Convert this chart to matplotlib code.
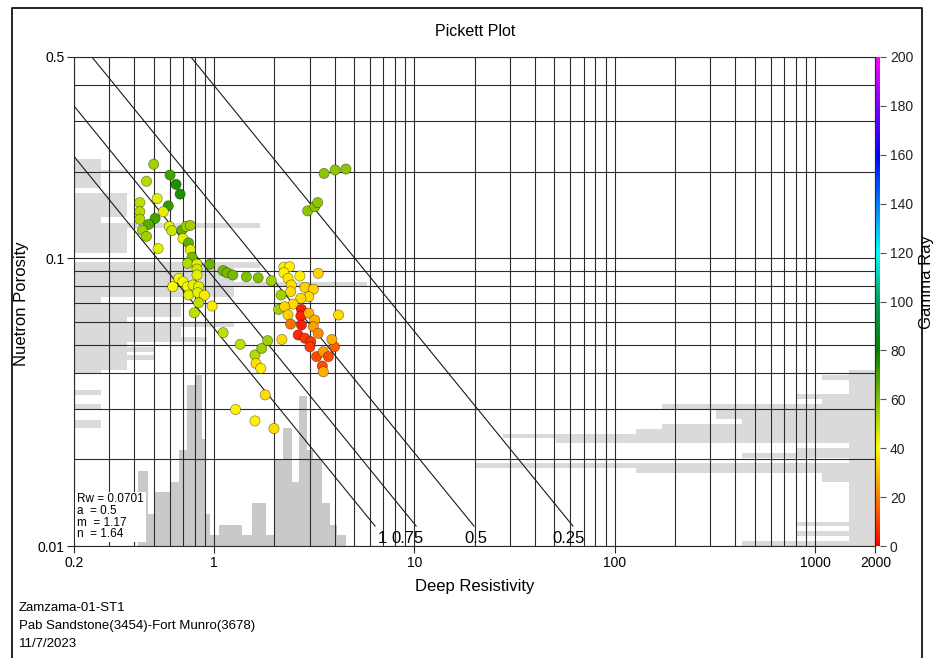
import matplotlib
matplotlib.use("Agg")
import matplotlib.pyplot as plt
import numpy as np
from matplotlib.colors import LinearSegmentedColormap, Normalize
from matplotlib.lines import Line2D
from matplotlib.ticker import LogLocator, NullFormatter

plt.rcParams["font.family"] = ["Liberation Sans", "DejaVu Sans"]

# Archie parameters shown in the box
RW, A_FACT, M_EXP, N_EXP = 0.0701, 0.5, 1.17, 1.64
SW_LINES = [1.0, 0.75, 0.5, 0.25]
SW_LABELS = ["1", "0.75", "0.5", "0.25"]

# crossplot points: deep resistivity (ohm.m), neutron porosity, gamma ray (API)
deep_res = [0.50, 0.603, 0.646, 0.677, 0.46, 0.52, 0.426, 0.426, 0.426, 0.591,
            0.558, 0.508, 0.471, 0.439, 0.46, 0.526, 0.598, 0.615, 0.69, 0.726,
            0.761, 0.699, 0.746, 0.761, 0.776, 0.737, 0.822, 0.952, 0.822, 0.822,
            0.667, 0.622, 0.699, 0.737, 0.785, 0.838, 0.746, 0.828, 0.895, 0.838,
            0.979, 0.797, 1.11, 1.16, 1.24, 1.45, 1.66, 1.93, 2.16, 2.10,
            2.23, 2.38, 2.23, 2.34, 2.68, 3.31, 2.43, 2.41, 2.84, 3.13,
            2.97, 2.71, 2.48, 2.25, 2.34, 2.73, 2.71, 2.97, 3.18, 2.73,
            2.41, 3.13, 3.31, 2.63, 2.84, 3.04, 3.01, 3.25, 3.51, 3.72,
            3.99, 3.87, 4.18, 2.18, 3.47, 3.51,
            1.11, 1.35, 1.60, 1.73, 1.85, 1.62, 1.71, 1.80, 1.28, 1.60, 1.99,
            3.54, 4.02, 4.55, 2.93, 3.18, 3.29]
nphi = [0.212, 0.1945, 0.1805, 0.167, 0.185, 0.161, 0.156, 0.145, 0.1365, 0.152,
        0.145, 0.1375, 0.131, 0.125, 0.119, 0.108, 0.129, 0.1246, 0.125, 0.129,
        0.130, 0.117, 0.113, 0.107, 0.1007, 0.096, 0.0954, 0.0952, 0.0917, 0.0874,
        0.0851, 0.0796, 0.0828, 0.0796, 0.0807, 0.0796, 0.0745, 0.0759, 0.0743, 0.070,
        0.0682, 0.0646, 0.0905, 0.089, 0.0874, 0.0862, 0.0855, 0.0835, 0.0745, 0.0664,
        0.093, 0.0934, 0.089, 0.0851, 0.0867, 0.0886, 0.0807, 0.0765, 0.0792, 0.078,
        0.0735, 0.0725, 0.0693, 0.0678, 0.0635, 0.0664, 0.063, 0.0644, 0.061, 0.0586,
        0.059, 0.0578, 0.0548, 0.0541, 0.0527, 0.0513, 0.0492, 0.0455, 0.0473, 0.0455,
        0.0492, 0.0522, 0.0635, 0.0522, 0.0422, 0.0403,
        0.0551, 0.0502, 0.0461, 0.0486, 0.0517, 0.0431, 0.0414, 0.0335, 0.0298, 0.0272, 0.0256,
        0.197, 0.2025, 0.204, 0.146, 0.151, 0.156]
gamma = [55, 70, 75, 75, 52, 45, 50, 52, 52, 72,
         45, 70, 66, 55, 55, 45, 45, 48, 65, 55,
         55, 45, 65, 45, 62, 52, 45, 64, 48, 45,
         42, 42, 42, 42, 45, 45, 45, 45, 37, 50,
         37, 50, 62, 62, 62, 60, 60, 55, 55, 55,
         38, 38, 38, 36, 38, 33, 35, 35, 33, 33,
         35, 35, 35, 33, 33, 6, 6, 28, 28, 4,
         18, 25, 22, 7, 9, 9, 10, 12, 25, 12,
         15, 28, 35, 35, 12, 28,
         50, 50, 52, 55, 55, 35, 38, 35, 38, 38, 35,
         58, 58, 58, 58, 58, 58]

# porosity histogram (left side)
phi_hist_top = [0.221, 0.2025, 0.1977, 0.1684, 0.139, 0.1325, 0.1273, 0.0970, 0.0925,
                0.0827, 0.0794, 0.0733, 0.0699, 0.0624, 0.0600, 0.0577, 0.0532, 0.0511,
                0.0491, 0.0472, 0.0461, 0.0443, 0.0409, 0.0348, 0.0311, 0.0274]
phi_hist_bot = [0.2025, 0.1977, 0.1753, 0.139, 0.1325, 0.1273, 0.1042, 0.0925, 0.0827,
                0.0794, 0.0733, 0.0699, 0.0624, 0.0600, 0.0577, 0.0532, 0.0511, 0.0491,
                0.0472, 0.0461, 0.0443, 0.0409, 0.0399, 0.0335, 0.0299, 0.0257]
phi_hist_cnt = [1, 2, 1, 2, 1, 7, 2, 7, 6, 11, 6, 1, 4, 2, 6, 4, 5, 2, 3, 2, 3, 2, 1, 1, 1, 1]

# resistivity histogram (bottom)
res_hist_edges = [0.417, 0.470, 0.507, 0.602, 0.668, 0.735, 0.812, 0.867, 0.911, 0.954,
                  1.01, 1.057, 1.372, 1.539, 1.808, 2.012, 2.213, 2.437, 2.66, 2.896,
                  3.12, 3.44, 3.78, 4.11, 4.58]
res_hist_cnt = [7, 3, 5, 6, 9, 15, 16, 10, 3, 1, 1, 2, 1, 4, 1, 8, 11, 6, 14, 9, 8, 4, 2, 1]

# gamma ray histogram (right side), 2 API bins from 0 to 72
gr_bin_low = [0, 2, 4, 6, 8, 10, 12, 14, 16, 18, 20, 22, 24, 26, 28, 30, 32, 34,
              36, 38, 40, 42, 44, 46, 48, 50, 52, 54, 56, 58, 60, 62, 64, 66, 68, 70]
gr_hist_cnt = [5, 1, 3, 1, 3, 1, 1, 1, 1, 1, 1, 1, 1, 2, 2, 9, 15, 1,
               5, 3, 1, 12, 14, 9, 8, 5, 6, 6, 8, 2, 3, 1, 1, 1, 2, 1]

x_ticks = [0.2, 1, 10, 100, 1000, 2000]
x_ticklabels = ["0.2", "1", "10", "100", "1000", "2000"]
y_ticks = [0.01, 0.1, 0.5]
y_ticklabels = ["0.01", "0.1", "0.5"]

gr_cmap = LinearSegmentedColormap.from_list("gr", [
    (0.0, "#ff0000"), (0.1, "#ff8000"), (0.2, "#ffff00"), (0.3, "#80c000"),
    (0.4, "#008000"), (0.5, "#00a060"), (0.6, "#00ffff"), (0.7, "#0080ff"),
    (0.8, "#0000ff"), (0.9, "#8000ff"), (1.0, "#ff00ff")])

W, H = 935, 658
AX_RECT = [74 / W, 112 / H, 801.5 / W, 489 / H]
XLIM, YLIM = (0.2, 2000), (0.01, 0.5)
PHI_END, PHI_LBL = 0.01173, 0.01066
SW_LBL_DX = [5, -6, 1, -3]   # label nudges, points
GRID_C = "#2b2b2b"


def main():
    fig = plt.figure(figsize=(W / 100, H / 100), dpi=100)
    fig.patch.set_facecolor("white")

    # histograms sit under the grid of the main axes
    hl = fig.add_axes(AX_RECT, zorder=0)
    hl.set_yscale("log"); hl.set_ylim(*YLIM); hl.set_xlim(0, 30.1)
    hl.barh(phi_hist_bot, phi_hist_cnt,
            height=np.array(phi_hist_top) - np.array(phi_hist_bot),
            align="edge", color="#dadada", lw=0)
    hl.axis("off")

    hb = fig.add_axes(AX_RECT, zorder=0)
    hb.set_xscale("log"); hb.set_xlim(*XLIM); hb.set_ylim(0, 45.7)
    hb.bar(res_hist_edges[:-1], res_hist_cnt, width=np.diff(res_hist_edges),
           align="edge", color="#c9c9c9", lw=0)
    hb.axis("off")

    hr = fig.add_axes(AX_RECT, zorder=0)
    hr.set_ylim(0, 200); hr.set_xlim(30.1, 0)
    hr.barh(gr_bin_low, gr_hist_cnt, height=2, align="edge", color="#dadada", lw=0)
    hr.axis("off")

    ax = fig.add_axes(AX_RECT, zorder=2)
    ax.patch.set_alpha(0)
    ax.set_xscale("log"); ax.set_yscale("log")
    ax.set_xlim(*XLIM); ax.set_ylim(*YLIM)
    ax.xaxis.set_minor_locator(LogLocator(base=10, subs=np.arange(2, 10), numticks=50))
    ax.yaxis.set_minor_locator(LogLocator(base=10, subs=np.arange(2, 10), numticks=50))
    ax.xaxis.set_minor_formatter(NullFormatter())
    ax.yaxis.set_minor_formatter(NullFormatter())
    ax.set_xticks(x_ticks); ax.set_xticklabels(x_ticklabels)
    ax.set_yticks(y_ticks); ax.set_yticklabels(y_ticklabels)
    ax.tick_params(which="minor", length=0)
    ax.tick_params(which="major", length=5, width=0.8, labelsize=10, color=GRID_C, pad=2)
    ax.grid(True, which="both", color=GRID_C, lw=0.8)
    ax.set_axisbelow(True)
    for s in ax.spines.values():
        s.set_color(GRID_C); s.set_linewidth(0.8)

    # water saturation lines from Archie
    phi_l = np.array([0.5, PHI_END])
    for sw, lab, dx in zip(SW_LINES, SW_LABELS, SW_LBL_DX):
        rt = A_FACT * RW / (phi_l ** M_EXP * sw ** N_EXP)
        ax.plot(rt, phi_l, color="#1a1a1a", lw=0.8, zorder=3)
        ax.annotate(lab, (rt[-1], PHI_LBL), xytext=(dx, 0), textcoords="offset points",
                    ha="center", va="center", fontsize=12, zorder=3)

    norm = Normalize(0, 200)
    sc = ax.scatter(deep_res, nphi, c=gamma, cmap=gr_cmap, norm=norm, s=54,
                    edgecolors=(0, 0, 0, 0.45), linewidths=0.5, zorder=4)

    ax.text(0.004, 0.012, "Rw = 0.0701\na  = 0.5\nm  = 1.17\nn  = 1.64",
            transform=ax.transAxes, fontsize=8.5, linespacing=0.95, va="bottom", ha="left",
            zorder=5, bbox=dict(boxstyle="square,pad=0.15", fc="white", ec="none"))

    cax = fig.add_axes([875.5 / W, 112 / H, 4 / W, 489 / H])
    cb = fig.colorbar(sc, cax=cax, ticks=range(0, 201, 20))
    cb.outline.set_visible(False)
    cax.tick_params(length=4, width=0.8, labelsize=10, color="#555555", labelcolor="#222222")

    fig.text(475 / W, 1 - 32 / H, "Pickett Plot", ha="center", va="center", fontsize=11.5)
    fig.text(475 / W, 1 - 587 / H, "Deep Resistivity", ha="center", va="center", fontsize=12)
    fig.text(22 / W, 1 - 304 / H, "Nuetron Porosity", ha="center", va="center",
             rotation=90, fontsize=12)
    fig.text(926 / W, 1 - 282 / H, "Gamma Ray", ha="center", va="center",
             rotation=90, fontsize=12)
    for yy, line in zip([608, 626, 644],
                        ["Zamzama-01-ST1", "Pab Sandstone(3454)-Fort Munro(3678)", "11/7/2023"]):
        fig.text(19 / W, 1 - yy / H, line, ha="left", va="center", fontsize=9.5)

    # outer frame
    xl, xr, yt = 12 / W, 922 / W, 1 - 8 / H
    fig.add_artist(Line2D([xl, xl, xr, xr], [0, yt, yt, 0], color="black", lw=1.2))

    fig.savefig("out.png", dpi=100)
    plt.close(fig)


if __name__ == "__main__":
    main()
